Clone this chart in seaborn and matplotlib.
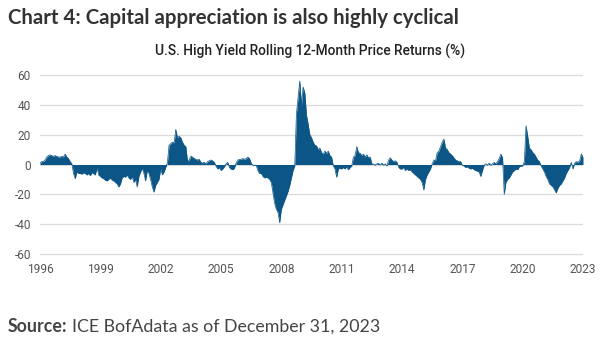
import numpy as np
import pandas as pd
import matplotlib
matplotlib.use("Agg")
import matplotlib.pyplot as plt
import seaborn as sns

# Rolling 12-month price returns (%), one value per month, grouped in 3-year blocks
ret_1996_1998 = [1, 2, 2, 3, 5, 6, 6.5, 6, 5.5, 6, 5.5, 5,
                 5, 5.5, 5, 7, 5, 4, 2, 0.5, -6, -9.5, -5, -6,
                 -6, -6.5, -5.5, -6, -7, -6, -7.5, -5.5, -6, -7, -2, -7]
ret_1999_2001 = [-8, -9, -9.5, -10.5, -11, -10, -9, -10.5, -11, -12, -13, -15,
                 -13, -9, -8, -8.5, -7, -9, -10, -8, -12, -10, -15, -8,
                 -5, -2.5, -6, -11, -4, -6, -10, -15, -18.5, -14, -12, -10]
ret_2002_2004 = [-3, -7, -5, -2, 1, 13, 14, 15, 14.5, 23.5, 18, 19,
                 18, 15, 13, 12, 2.5, 3, 5.5, 5, 4, 3.5, 3, 3.5,
                 1.5, 1, 1.5, 0.5, 2, 2.5, 3, 2.5, 1.5, -1, -3, -2]
ret_2005_2007 = [-4, -3, -1.5, 0.5, 1.5, -2, -3, -3.5, -2.5, 1, 3, 3.5,
                 3.5, 4, 3.5, 4, 5, 4, 1, -0.5, -0.5, -0.5, -4, -6,
                 -6, -8, -9, -8.5, -9, -10, -12, -19, -26, -30, -32, -39]
ret_2008_2010 = [-30, -27, -24, -21, -18, -14, -9, -4, -1, 34, 45, 56,
                 40, 52, 48, 33, 27, 20, 18, 15, 13, 12.5, 10, 11,
                 8, 7, 9, 7.5, 9, 6, 5, -1, -3, -8.5, -3, -2.5]
ret_2011_2013 = [-3, -2, -3, -1.5, -3.5, -2, -1, 5, 6, 12, 8, 7.5,
                 6, 7, 5, 6.5, 4.5, 5, 0.5, 0.3, -0.5, 0.5, 0.8, -0.3,
                 1, -0.5, 0.5, -1, 3, 4.5, 3, 2, 2.5, 1.5, -2, -3]
ret_2014_2016 = [-3, -2, -4, -3, -4, -3.5, -5, -6, -7, -8, -9, -10,
                 -12, -17, -10, -7, -5, -3, 0.5, 3, 2.5, 8, 9, 12,
                 15, 17, 11, 10, 8, 7, 6, 4.5, 3, 2.5, 2, 2]
ret_2017_2019 = [-0.5, -1, -2, -1.5, -2.5, -3, -2.5, -3.5, -4, -4.5, -5, -8,
                 -4, -0.5, 0.5, -0.5, 1, -0.5, 0.5, 1.5, 0.5, 2, 4, 7,
                 4.5, -20, -12, -10, -9, -7, -5, -4, -3, -3.5, -1.5, -1]
ret_2020_2022 = [-1, 2, 26, 19, 11, 10, 8, 7, 5, 3, 2, -1,
                 -3, -5, -8, -10, -13, -14, -15, -17, -19, -16, -14, -13,
                 -11, -9, -6, -4, -2, 1.5, -3, 1, 2, 1.5, 2.5, 7]
ret_2023 = [5]

tick_years = [1996, 1999, 2002, 2005, 2008, 2011, 2014, 2017, 2020, 2023]
y_ticks = [-60, -40, -20, 0, 20, 40, 60]

values = np.concatenate([ret_1996_1998, ret_1999_2001, ret_2002_2004,
                         ret_2005_2007, ret_2008_2010, ret_2011_2013,
                         ret_2014_2016, ret_2017_2019, ret_2020_2022, ret_2023])
df = pd.DataFrame({"year": 1996 + np.arange(len(values)) / 12.0,
                   "return_pct": values})

sns.set_theme(style="white")
plt.rcParams["font.family"] = ["Lato", "DejaVu Sans"]

W, H = 610, 344
fig = plt.figure(figsize=(W / 100, H / 100), dpi=100)
ax = fig.add_axes([40 / W, 1 - 255.5 / H, 543 / W, 182 / H])

blue = "#0b5686"
ax.fill_between(df["year"], 0, df["return_pct"], color=blue, linewidth=0, zorder=3)
sns.lineplot(data=df, x="year", y="return_pct", ax=ax, color=blue,
             linewidth=0.5, zorder=3)

ax.set_xlim(1996, 2023)
ax.set_ylim(-61, 61)
ax.set_xticks(tick_years)
ax.set_xticklabels([str(y) for y in tick_years])
ax.set_yticks(y_ticks)
ax.set_yticklabels([str(v) for v in y_ticks])
ax.grid(axis="y", color="#dadada", linewidth=0.9)
ax.grid(axis="x", visible=False)
ax.set_axisbelow(True)
for s in ax.spines.values():
    s.set_visible(False)
ax.set_xlabel("")
ax.set_ylabel("")
ax.tick_params(axis="both", length=0, labelsize=8.6, labelcolor="#555555")
ax.tick_params(axis="x", pad=5.5)
ax.tick_params(axis="y", pad=6.5)
for lab in ax.get_xticklabels() + ax.get_yticklabels():
    lab.set_fontfamily(["Roboto", "DejaVu Sans"])

fig.text(8 / W, 1 - 18 / H, "Chart 4: Capital appreciation is also highly cyclical",
         fontsize=14.7, fontweight="bold", color="#333333", va="center", ha="left")
fig.text(310 / W, 1 - 51 / H, "U.S. High Yield Rolling 12-Month Price Returns (%)",
         fontsize=9.9, fontweight="medium", color="#222222", va="center", ha="center",
         family=["Roboto", "DejaVu Sans"])

src_bold = fig.text(8 / W, 1 - 327 / H, "Source:", fontsize=12.8, fontweight="bold",
                    color="#444444", va="center", ha="left")
fig.canvas.draw()
bb = src_bold.get_window_extent()
fig.text((bb.x1 + 4) / W, 1 - 327 / H, "ICE BofAdata as of December 31, 2023",
         fontsize=12.8, color="#444444", va="center", ha="left")

fig.savefig("out.png", dpi=100)
